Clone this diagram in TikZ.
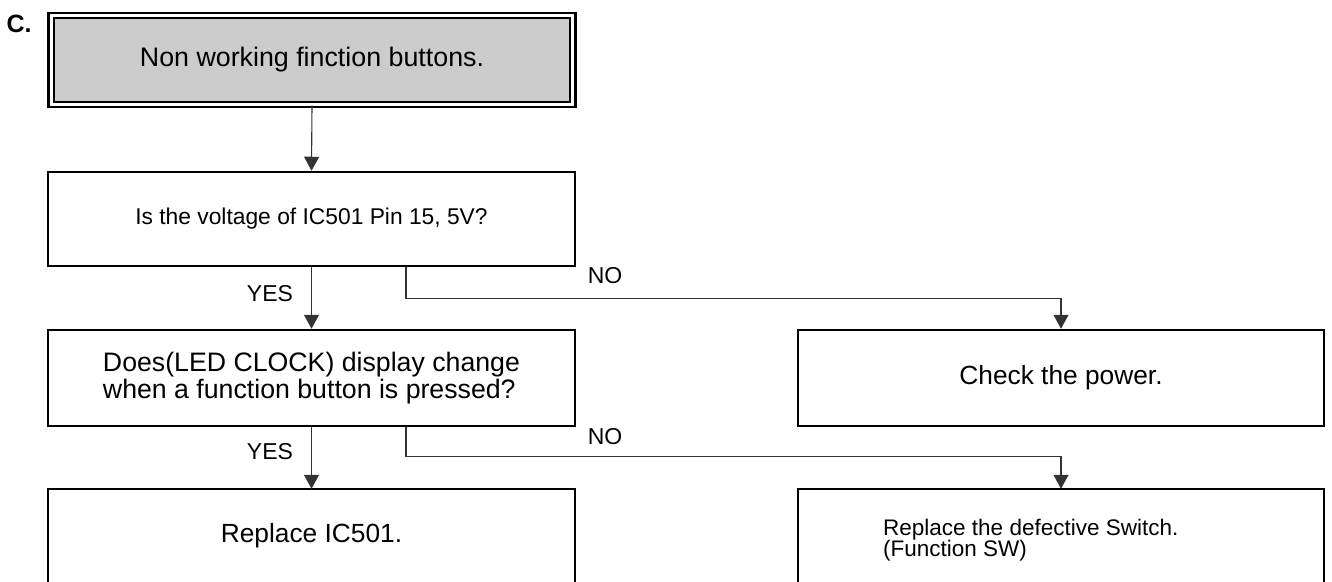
\documentclass[tikz,border=0pt]{standalone}
\usepackage{fontspec}
\setmainfont{Liberation Sans}
\usetikzlibrary{arrows.meta}
\begin{document}
\begin{tikzpicture}[x=1pt,y=-1pt,
  box/.style={draw=black,line width=2.5pt,inner sep=0pt,minimum width=527pt,font=\fontsize{26.3}{27}\selectfont,align=center},
  openbox/.style={inner sep=0pt,minimum width=527pt,font=\fontsize{26.3}{27}\selectfont,align=center},
  side/.style={line width=2.5pt,draw=black},
  conn/.style={draw=black!80,line width=1.1pt,-{Triangle[width=15pt,length=14pt]}},
  lbl/.style={font=\fontsize{23}{26}\selectfont,inner sep=0pt}]
\useasboundingbox (0,0) rectangle (1332,581);
\node[font=\fontsize{25}{28}\selectfont\bfseries,inner sep=0pt] (c) at (19,24) {C.};
\node[draw=black,line width=2.3pt,double=white,double distance=3pt,fill=black!20,inner sep=0pt,
  minimum width=521.5pt,minimum height=89pt,font=\fontsize{26.8}{30}\selectfont] (b1) at (312,60) {Non working finction buttons.};
\node[box,minimum height=94pt,font=\fontsize{22.8}{26}\selectfont] (b2) at (311.5,219) {Is the voltage of IC501 Pin 15, 5V?};
\node[box,minimum height=96pt,align=left,font=\fontsize{26.7}{27}\selectfont] (b3) at (311.5,378) {Does(LED CLOCK) display change\\when a function button is pressed?};
\node[box,minimum width=526pt,minimum height=96pt] (b5) at (1061,378) {Check the power.};
\node[openbox,minimum height=94pt] (b4) at (311.5,536) {Replace IC501.};
\node[openbox,minimum width=526pt,minimum height=94pt] (b6) at (1061,536) {};
\node[font=\fontsize{22.5}{21.5}\selectfont,align=left,anchor=west,inner sep=0pt] (t6) at (883,540) {Replace the defective Switch.\\(Function SW)};
\draw[side] (b4.south west) -- (b4.north west) -- (b4.north east) -- (b4.south east);
\draw[side] (b6.south west) -- (b6.north west) -- (b6.north east) -- (b6.south east);
\draw[conn] (b1.south) -- (b2.north);
\draw[conn] (b2.south) -- (b3.north);
\draw[conn] (b3.south) -- (b4.north);
\draw[conn] ([xshift=94.5pt]b2.south) -- ++(0,31) -| (b5.north);
\draw[conn] ([xshift=94.5pt]b3.south) -- ++(0,29) -| (b6.north);
\node[lbl] (y1) at (270,294) {YES};
\node[lbl] (y2) at (270,452) {YES};
\node[lbl] (n1) at (605,276) {NO};
\node[lbl] (n2) at (605,437) {NO};
\end{tikzpicture}
\end{document}
